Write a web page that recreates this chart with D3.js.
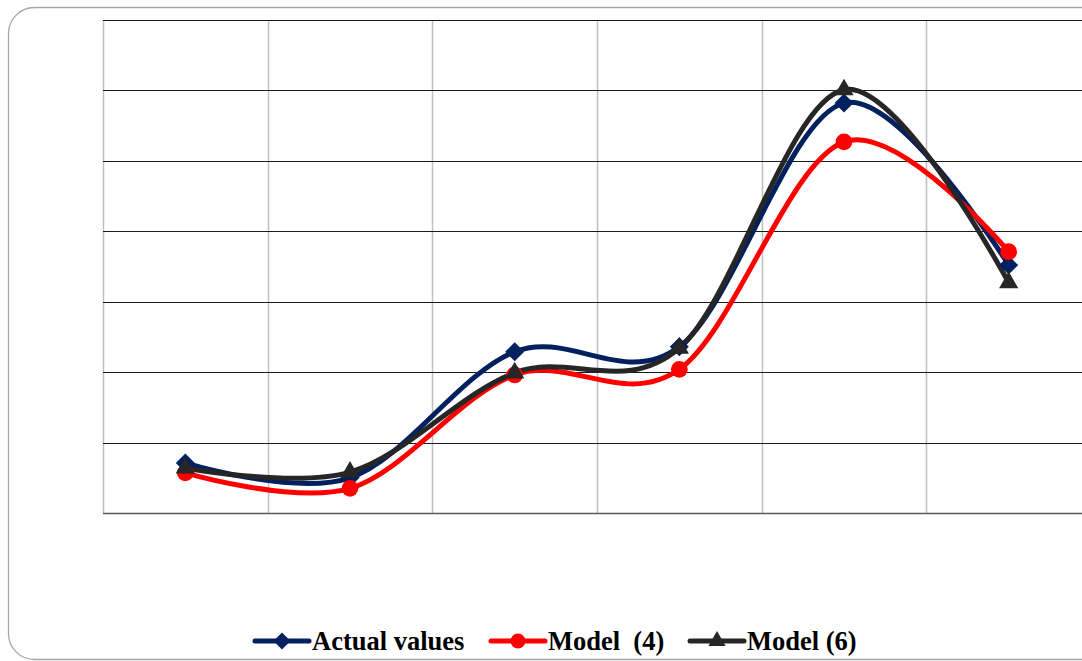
<!DOCTYPE html>
<html>
<head>
<meta charset="utf-8">
<script src="https://cdn.jsdelivr.net/npm/d3@7"></script>
<style>
body { margin: 0; background: #fff; }
#chart { width: 1082px; height: 661px; overflow: hidden; }
.legend-text { font-family: "Liberation Serif", "Times New Roman", serif; font-weight: bold; font-size: 26.5px; white-space: pre; }
</style>
</head>
<body>
<div id="chart"></div>
<script>
var categories = ["1", "2", "3", "4", "5", "6"]
var actualValues = [0.71, 0.50, 2.29, 2.36, 5.82, 3.52]
var model4Values = [0.57, 0.35, 1.96, 2.04, 5.27, 3.71]
var model6Values = [0.64, 0.58, 1.99, 2.34, 6.01, 3.27]
var yTicks = [0, 1, 2, 3, 4, 5, 6, 7]
var seriesNames = ["Actual values", "Model  (4)", "Model (6)"]

var width = 1082
var height = 661
const plot = {left: 103, right: 1091, top: 20, bottom: 513}

var series = [
    {name: seriesNames[0], values: actualValues, color: "#002060", symbol: d3.symbolDiamond2, size: 230},
    {name: seriesNames[1], values: model4Values, color: "#ff0000", symbol: d3.symbolCircle, size: 220},
    {name: seriesNames[2], values: model6Values, color: "#262626", symbol: d3.symbolTriangle, size: 160}
]

var svg = d3.select("#chart")
    .append("svg")
    .attr("width", width)
    .attr("height", height)

// outer frame
svg.append("rect")
    .attr("x", 8.5)
    .attr("y", 7.5)
    .attr("width", 1120)
    .attr("height", 652)
    .attr("rx", 26)
    .attr("fill", "#fff")
    .attr("stroke", "#a6a6a6")
    .attr("stroke-width", 1.3)

var xScale = d3.scaleBand()
    .domain(categories)
    .range([plot.left, plot.right])

var yScale = d3.scaleLinear()
    .domain([0, 7])
    .range([plot.bottom, plot.top])

// vertical gridlines
var xEdges = categories.map(function(c) { return xScale(c) })
svg.append("g")
    .selectAll("line")
    .data(xEdges)
    .join("line")
    .attr("x1", function(d) { return Math.round(d) + 0.5 })
    .attr("x2", function(d) { return Math.round(d) + 0.5 })
    .attr("y1", plot.top)
    .attr("y2", plot.bottom)
    .attr("stroke", "#bfbfbf")
    .attr("stroke-width", 1.5)

// horizontal gridlines
svg.append("g")
    .selectAll("line")
    .data(yTicks)
    .join("line")
    .attr("x1", plot.left)
    .attr("x2", plot.right)
    .attr("y1", function(d) { return Math.round(yScale(d)) + 0.5 })
    .attr("y2", function(d) { return Math.round(yScale(d)) + 0.5 })
    .attr("stroke", function(d) { return d == 0 ? "#595959" : "#1a1a1a" })
    .attr("stroke-width", function(d) { return d == 0 ? 1.6 : 1.2 })

var xMid = function(i) { return xScale(categories[i]) + xScale.bandwidth() / 2 }

var line = d3.line()
    .x(function(d, i) { return xMid(i) })
    .y(function(d) { return yScale(d) })
    .curve(d3.curveCardinal.tension(0))

series.forEach(function(s) {
    svg.append("path")
        .datum(s.values)
        .attr("d", line)
        .attr("fill", "none")
        .attr("stroke", s.color)
        .attr("stroke-width", 5)
        .attr("stroke-linecap", "round")
})

series.forEach(function(s) {
    svg.append("g")
        .selectAll("path")
        .data(s.values)
        .join("path")
        .attr("transform", function(d, i) { return "translate(" + xMid(i) + "," + yScale(d) + ")" })
        .attr("d", d3.symbol().type(s.symbol).size(s.size))
        .attr("fill", s.color)
})

// legend
var legendX = [253, 489, 688]
var legend = svg.append("g")
series.forEach(function(s, i) {
    var g = legend.append("g")
        .attr("transform", "translate(" + legendX[i] + ",641)")
    g.append("line")
        .attr("x1", 2)
        .attr("x2", 56)
        .attr("y1", 0)
        .attr("y2", 0)
        .attr("stroke", s.color)
        .attr("stroke-width", 5)
        .attr("stroke-linecap", "round")
    g.append("path")
        .attr("transform", "translate(29,0)")
        .attr("d", d3.symbol().type(s.symbol).size(s.size * 0.8))
        .attr("fill", s.color)
    g.append("text")
        .attr("class", "legend-text")
        .attr("x", 59)
        .attr("y", 9)
        .text(s.name)
})
</script>
</body>
</html>
